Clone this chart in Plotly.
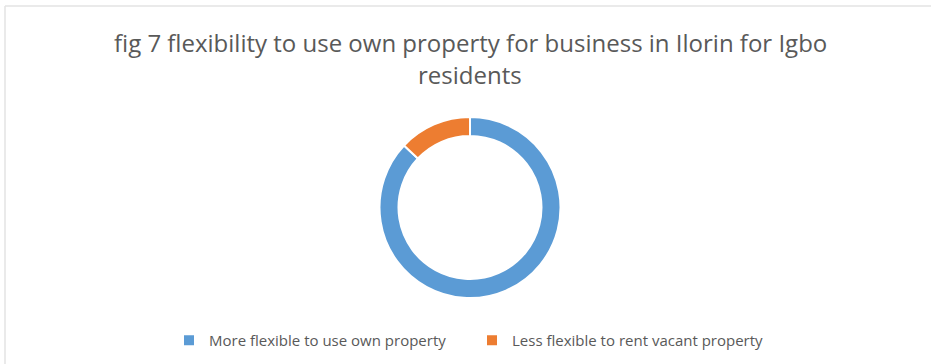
import plotly.graph_objects as go

# Survey shares for Igbo residents in Ilorin
labels = ["More flexible to use own property", "Less flexible to rent vacant property"]
values = [87, 13]
colors = ["#5B9BD5", "#ED7D31"]

title_lines = [
    "fig 7 flexibility to use own property for business in Ilorin for Igbo",
    "residents",
]

W, H = 931, 364
ML, MR, MT, MB = 9, 0, 117, 66


def px_x(px):
    """Convert a pixel column to paper x."""
    return (px - ML) / (W - ML - MR)


def px_y(py):
    """Convert a pixel row (from top) to paper y."""
    return (H - MB - py) / (H - MT - MB)


fig = go.Figure(
    go.Pie(
        labels=labels,
        values=values,
        hole=0.79,
        sort=False,
        direction="clockwise",
        rotation=0,
        marker=dict(colors=colors, line=dict(color="white", width=2)),
        textinfo="none",
        hoverinfo="label+percent",
    )
)

fig.update_layout(
    width=W,
    height=H,
    paper_bgcolor="white",
    plot_bgcolor="white",
    margin=dict(l=ML, r=MR, t=MT, b=MB),
    font=dict(family="Open Sans, sans-serif", color="#595959"),
    showlegend=True,
    legend=dict(
        orientation="h",
        x=px_x(472),
        xanchor="center",
        y=px_y(324),
        yanchor="top",
        font=dict(size=15, color="#595959"),
        entrywidth=258,
        entrywidthmode="pixels",
    ),
)

# two-line chart title
for line, cy in zip(title_lines, [42, 75]):
    fig.add_annotation(
        text=line, showarrow=False,
        xref="paper", yref="paper",
        x=px_x(470), y=px_y(cy),
        xanchor="center", yanchor="middle",
        font=dict(size=24, color="#595959"),
    )

# thin frame lines along the top and left edges of the chart area
frame = dict(color="#e3e3e3", width=1.5)
fig.add_shape(type="line", xref="paper", yref="paper",
              x0=px_x(5), x1=px_x(W), y0=px_y(6), y1=px_y(6), line=frame)
fig.add_shape(type="line", xref="paper", yref="paper",
              x0=px_x(5), x1=px_x(5), y0=px_y(6), y1=px_y(H), line=frame)

fig.write_html("out.html")
